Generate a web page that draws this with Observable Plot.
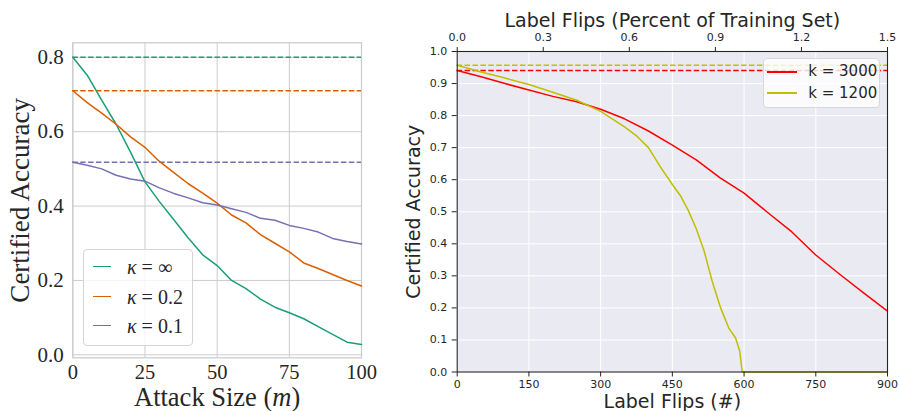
<!DOCTYPE html>
<html><head><meta charset="utf-8">
<script src="https://cdn.jsdelivr.net/npm/d3@7"></script>
<script src="https://cdn.jsdelivr.net/npm/@observablehq/plot@0.6"></script>
<style>
html,body{margin:0;padding:0;background:#fff;}
#wrap{position:relative;width:899px;height:411px;overflow:hidden;background:#fff;}
#left{position:absolute;left:0;top:0;}
#right{position:absolute;left:400px;top:0;}
.legend{position:absolute;box-sizing:border-box;border-radius:4px;background:rgba(255,255,255,0.8);}
.swatch{position:absolute;height:0;}
.lab{position:absolute;white-space:nowrap;color:#262626;}
</style></head>
<body><div id="wrap"><div id="left"></div><div id="right"></div></div>
<script>
// ---------- Left panel data ----------
const attackSizes = [0,5,10,15,20,25,30,35,40,45,50,55,60,65,70,75,80,85,90,95,100];
const leftSeries = ["κ = ∞", "κ = 0.2", "κ = 0.1"];
const leftColors = ["#1b9e77", "#d95f02", "#7570b3"];
const accKappaInf = [0.80,0.752,0.685,0.62,0.545,0.465,0.412,0.363,0.314,0.269,0.240,0.200,0.178,0.150,0.128,0.113,0.097,0.076,0.055,0.034,0.028];
const accKappa02  = [0.71,0.678,0.650,0.620,0.586,0.558,0.520,0.490,0.460,0.435,0.408,0.376,0.355,0.323,0.300,0.277,0.247,0.232,0.216,0.200,0.185];
const accKappa01  = [0.518,0.510,0.500,0.483,0.473,0.467,0.449,0.434,0.422,0.409,0.403,0.393,0.383,0.367,0.362,0.348,0.340,0.330,0.313,0.305,0.298];
const leftClean = [0.80, 0.71, 0.518];
const leftXTicks = [0,25,50,75,100];
const leftYTicks = [0,0.2,0.4,0.6,0.8];

// ---------- Right panel data ----------
const rightSeries = ["k = 3000", "k = 1200"];
const rightColors = ["#ff0000", "#bfbf00"];
const flipsK3000 = [0,50,100,150,200,250,300,350,400,450,500,550,600,650,700,750,800,850,900];
const accK3000   = [0.941,0.921,0.900,0.880,0.860,0.843,0.820,0.790,0.752,0.708,0.662,0.606,0.558,0.497,0.437,0.365,0.305,0.247,0.190];
const flipsK1200 = [0,50,100,150,200,250,300,350,375,400,425,450,467,483,500,516,533,551,568,582,591,596,900];
const accK1200   = [0.957,0.936,0.917,0.897,0.873,0.848,0.813,0.765,0.737,0.700,0.640,0.585,0.550,0.505,0.447,0.380,0.285,0.200,0.137,0.107,0.065,0.0,0.0];
const rightClean = [0.941, 0.957];
const rightXTicks = [0,150,300,450,600,750,900];
const rightYTicks = [0,0.1,0.2,0.3,0.4,0.5,0.6,0.7,0.8,0.9,1.0];
const topTickPos = [0,180,360,540,720,900];
const topTickLabels = ["0.0","0.3","0.6","0.9","1.2","1.5"];

// ---------- Left plot ----------
const leftValues = [accKappaInf, accKappa02, accKappa01];
const leftRows = [];
leftSeries.forEach((s, si) => leftValues[si].forEach((v, i) => leftRows.push({series: s, x: attackSizes[i], y: v})));
const leftCleanRows = leftSeries.map((s, i) => ({series: s, y: leftClean[i]}));

const fmt1 = d3.format(".1f");
const leftPlot = Plot.plot({
  width: 400, height: 411,
  marginLeft: 72.3, marginRight: 39, marginTop: 42.3, marginBottom: 53.7,
  style: {fontFamily: "'Liberation Serif', 'DejaVu Serif', serif", fontSize: "20px", color: "#262626", background: "transparent"},
  x: {domain: [0, 100], label: null},
  y: {domain: [-0.008, 0.839], label: null},
  color: {domain: leftSeries, range: leftColors},
  marks: [
    Plot.gridX({ticks: leftXTicks, stroke: "#cccccc", strokeOpacity: 1, strokeWidth: 1}),
    Plot.gridY({ticks: leftYTicks, stroke: "#cccccc", strokeOpacity: 1, strokeWidth: 1}),
    Plot.frame({stroke: "#cccccc", strokeWidth: 1.25}),
    Plot.axisX({ticks: leftXTicks, tickSize: 0, tickPadding: 7, label: null, fontSize: 20.5}),
    Plot.axisY({ticks: leftYTicks, tickSize: 0, tickPadding: 9, tickFormat: fmt1, label: null, fontSize: 21}),
    Plot.ruleY(leftCleanRows, {y: "y", stroke: "series", strokeWidth: 1.5, strokeDasharray: "5.5,2.4"}),
    Plot.line(leftRows, {x: "x", y: "y", z: "series", stroke: "series", strokeWidth: 1.5}),
    Plot.text(["Attack Size (m)"], {frameAnchor: "bottom", textAnchor: "middle", lineAnchor: "middle", dy: 39.5, fontSize: 26.5, fill: "#262626"}),
    Plot.text(["Certified Accuracy"], {frameAnchor: "left", textAnchor: "middle", lineAnchor: "middle", rotate: -90, dx: -52, fontSize: 27, fill: "#262626"})
  ]
});
// italic m
leftPlot.querySelectorAll("text").forEach(t => {
  if (t.textContent === "Attack Size (m)") {
    t.textContent = "";
    const ns = "http://www.w3.org/2000/svg";
    const a = document.createElementNS(ns, "tspan"); a.textContent = "Attack Size (";
    const b = document.createElementNS(ns, "tspan"); b.textContent = "m"; b.setAttribute("font-style", "italic");
    const c = document.createElementNS(ns, "tspan"); c.textContent = ")";
    t.append(a, b, c);
  }
});
document.getElementById("left").append(leftPlot);

// ---------- Right plot ----------
const rightRows = [];
flipsK3000.forEach((f, i) => rightRows.push({series: rightSeries[0], x: f, y: accK3000[i]}));
flipsK1200.forEach((f, i) => rightRows.push({series: rightSeries[1], x: f, y: accK1200[i]}));
const rightCleanRows = rightSeries.map((s, i) => ({series: s, y: rightClean[i]}));

const rightPlot = Plot.plot({
  width: 499, height: 411,
  marginLeft: 56.7, marginRight: 12, marginTop: 51, marginBottom: 39.5,
  style: {fontFamily: "'DejaVu Sans', sans-serif", fontSize: "11px", color: "#262626", background: "transparent"},
  x: {domain: [0, 900], label: null},
  y: {domain: [0, 1], label: null},
  color: {domain: rightSeries, range: rightColors},
  marks: [
    Plot.frame({fill: "#eaeaf2"}),
    Plot.gridX({ticks: rightXTicks, stroke: "#ffffff", strokeOpacity: 1, strokeWidth: 1}),
    Plot.gridY({ticks: rightYTicks, stroke: "#ffffff", strokeOpacity: 1, strokeWidth: 1}),
    Plot.ruleY(rightCleanRows, {y: "y", stroke: "series", strokeWidth: 1.5, strokeDasharray: "5.5,2.4"}),
    Plot.line(rightRows, {x: "x", y: "y", z: "series", stroke: "series", strokeWidth: 1.5}),
    Plot.frame({stroke: "#262626", strokeWidth: 1.1}),
    Plot.axisX({ticks: rightXTicks, anchor: "bottom", tickSize: 5, tickPadding: 3.4, label: null}),
    Plot.axisX({ticks: topTickPos, anchor: "top", tickSize: 5, tickPadding: 6, label: null,
                tickFormat: d => topTickLabels[topTickPos.indexOf(d)]}),
    Plot.axisY({ticks: rightYTicks, tickSize: 5, tickPadding: 5, tickFormat: fmt1, label: null}),
    Plot.text(["Label Flips (Percent of Training Set)"], {frameAnchor: "top", textAnchor: "middle", lineAnchor: "middle", dy: -30.6, fontSize: 19, fill: "#262626"}),
    Plot.text(["Label Flips (#)"], {frameAnchor: "bottom", textAnchor: "middle", lineAnchor: "middle", dy: 29.5, fontSize: 19, fill: "#262626"}),
    Plot.text(["Certified Accuracy"], {frameAnchor: "left", textAnchor: "middle", lineAnchor: "middle", rotate: -90, dx: -43.7, fontSize: 19, fill: "#262626"})
  ]
});
document.getElementById("right").append(rightPlot);

// ---------- Legends ----------
function makeLegend(opts) {
  const box = document.createElement("div");
  box.className = "legend";
  Object.assign(box.style, {left: opts.left + "px", top: opts.top + "px", width: opts.width + "px",
    height: opts.height + "px", border: "1px solid " + opts.border});
  opts.labels.forEach((lab, i) => {
    const cy = opts.rows[i];
    const sw = document.createElement("div");
    sw.className = "swatch";
    Object.assign(sw.style, {left: opts.swLeft + "px", width: opts.swWidth + "px", top: (cy - opts.swW / 2 - 1) + "px",
      borderTop: opts.swW + "px solid " + opts.colors[i]});
    const tx = document.createElement("div");
    tx.className = "lab";
    Object.assign(tx.style, {left: opts.txLeft + "px", top: (cy - opts.txOff - 1) + "px", fontFamily: opts.font,
      fontSize: opts.size + "px", lineHeight: opts.size + "px"});
    tx.innerHTML = opts.html ? opts.html(lab) : lab;
    box.append(sw, tx);
  });
  document.getElementById("wrap").append(box);
}
makeLegend({left: 83, top: 249, width: 110, height: 97, border: "#d4d4d4",
  rows: [18, 48, 77], labels: leftSeries, colors: leftColors,
  swLeft: 9, swWidth: 17.6, swW: 1.5, txLeft: 43, txOff: 10, size: 20,
  font: "'Liberation Serif', 'DejaVu Serif', serif",
  html: lab => "<i>κ</i>" + lab.slice(1)});
makeLegend({left: 762.7, top: 58.3, width: 117.3, height: 50, border: "#d8d8d8",
  rows: [13.4, 35], labels: rightSeries, colors: rightColors,
  swLeft: 3.3, swWidth: 30, swW: 2, txLeft: 44.6, txOff: 7.4, size: 15,
  font: "'DejaVu Sans', sans-serif"});
</script></body></html>
